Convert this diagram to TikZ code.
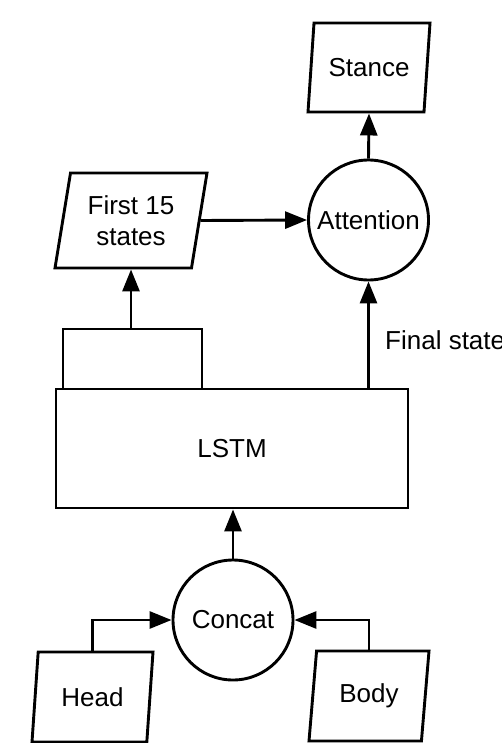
\documentclass[tikz,border=0pt]{standalone}
\usepackage{fontspec}
\setmainfont{Liberation Sans}
\usetikzlibrary{arrows.meta,shapes.geometric}

\tikzset{
  every node/.style={font=\fontsize{26}{31}\selectfont, inner sep=2pt, align=center},
  line/.style={line width=2.9pt},
  arr/.style={line, -{Triangle[length=22pt,width=17pt]}},
  iobox/.style={draw, line width=2.9pt, trapezium, trapezium stretches body,
    trapezium left angle=75, trapezium right angle=105},
  opcircle/.style={draw, line width=2.9pt, circle, minimum size=120pt, inner sep=0pt},
  blockbox/.style={draw, line width=2.9pt, rectangle, inner sep=0pt},
}

\begin{document}
\begin{tikzpicture}[x=1pt, y=-1pt]
  \useasboundingbox (0,0) rectangle (501,743);

  % outputs and attention
  \node[iobox, minimum height=89pt, minimum width=122pt] (stance) at (369,67.5) {Stance};
  \node[opcircle] (att) at (368.5,220) {Attention};
  \node[iobox, trapezium left angle=74, trapezium right angle=106,
        minimum height=95pt, minimum width=152pt] (first) at (131,220.5) {First 15\\states};

  % recurrent encoder with its state tap
  \node[blockbox, minimum width=352pt, minimum height=119pt] (lstm) at (232,448.5) {LSTM};
  \node[blockbox, minimum width=139pt, minimum height=60pt] (tap) at (132.5,359) {};

  % inputs
  \node[opcircle] (concat) at (233,620) {Concat};
  \node[iobox, minimum height=90pt, minimum width=121pt] (head) at (92.5,697) {Head};
  \node[iobox, minimum height=90pt, minimum width=120pt] (body) at (369,696) {Body};

  \coordinate (finaltap) at (att.south |- lstm.north);
  \node[anchor=west, inner sep=0pt] (finallbl) at (385,340) {Final state};

  % connectors
  \draw[arr] (head.north) |- (concat.west);
  \draw[arr] (body.north) |- (concat.east);
  \draw[arr] (concat.north) -- (concat.north |- lstm.south);
  \draw[arr] (tap.north -| first.south) -- (first.south);
  \draw[arr] (finaltap) -- (att.south);
  \draw[arr] (first.east) -- (att.west);
  \draw[arr] (att.north) -- (stance.south);
\end{tikzpicture}
\end{document}
